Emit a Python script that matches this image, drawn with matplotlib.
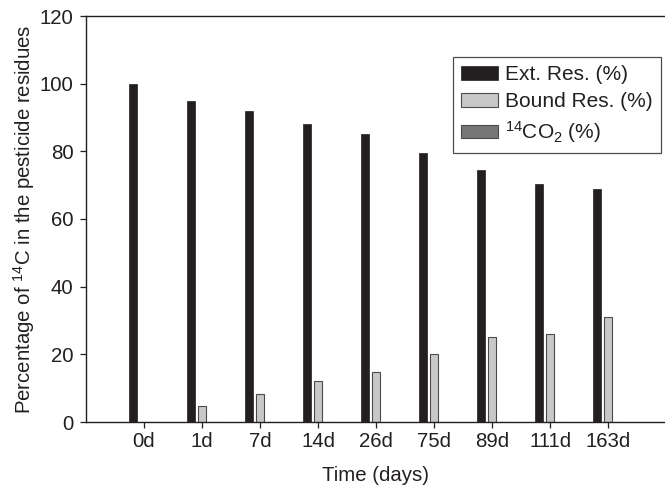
import matplotlib
matplotlib.use("Agg")
import matplotlib.pyplot as plt
import numpy as np

plt.rcParams['font.family'] = ['Liberation Sans', 'DejaVu Sans']
plt.rcParams['mathtext.default'] = 'regular'

# data
days = ["0d", "1d", "7d", "14d", "26d", "75d", "89d", "111d", "163d"]
ext_res = [100, 95, 91.9, 88.1, 85.1, 79.5, 74.5, 70.4, 69.0]
bound_res = [0, 4.7, 8.4, 12.0, 14.8, 20.2, 25.0, 26.1, 31.0]
co2 = [0, 0, 0, 0, 0, 0, 0, 0, 0]

ink = '#231f20'
fs = 14.7

fig = plt.figure(figsize=(6.65, 4.91), dpi=100)
ax = fig.add_axes([86 / 665, 1 - 422 / 491, 579 / 665, 406 / 491])

x = np.arange(len(days))
w = 0.13
ax.bar(x - 0.19, ext_res, w, color=ink, edgecolor=ink, linewidth=0.5,
       label='Ext. Res. (%)')
ax.bar(x, bound_res, w, color='#c8c8c8', edgecolor='#4a4a4a', linewidth=0.8,
       label='Bound Res. (%)')
ax.bar(x + 0.19, co2, w, color='#767676', edgecolor='#4a4a4a', linewidth=0.8,
       label='$^{14}$CO$_2$ (%)')

ax.set_xlim(-1, 8.98)
ax.set_ylim(0, 120)
ax.set_yticks(range(0, 121, 20))
ax.set_xticks(x)
ax.set_xticklabels(days)

for side in ['left', 'bottom', 'top']:
    ax.spines[side].set_color(ink)
    ax.spines[side].set_linewidth(1.0)
ax.spines['right'].set_visible(False)

ax.tick_params(axis='both', direction='out', length=4, width=0.9,
               color=ink, labelsize=fs, labelcolor=ink)
ax.tick_params(axis='y', pad=5)
ax.tick_params(axis='x', pad=3)

ax.set_xlabel('Time (days)', fontsize=fs, color=ink, labelpad=11)
ax.set_ylabel('Percentage of $^{14}$C in the pesticide residues',
              fontsize=fs, color=ink, labelpad=2)

leg = ax.legend(loc='upper right', bbox_to_anchor=((661 - 86) / 579, (422 - 57) / 406),
                borderaxespad=0, fontsize=15, frameon=True, fancybox=False,
                handlelength=1.75, handleheight=0.6, handletextpad=0.35,
                labelspacing=0.38, borderpad=0.4)
leg.get_frame().set_edgecolor(ink)
leg.get_frame().set_linewidth(0.9)
for t in leg.get_texts():
    t.set_color(ink)

fig.savefig('out.png', dpi=100, facecolor='white')
